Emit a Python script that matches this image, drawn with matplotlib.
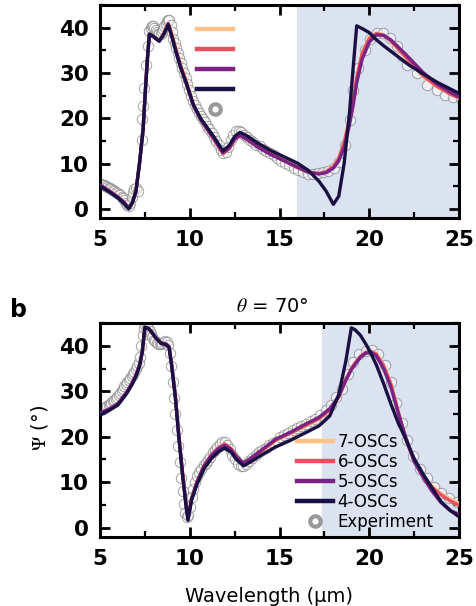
import matplotlib
matplotlib.use("Agg")
import matplotlib.pyplot as plt
from matplotlib.lines import Line2D
from matplotlib.ticker import MultipleLocator

plt.rcParams["font.family"] = ["DejaVu Sans"]
plt.rcParams["mathtext.fontset"] = "stix"

# ---------------- panel a ----------------
wl_a = [5.0, 5.5, 6.0, 6.3, 6.6, 6.8, 7.0, 7.2, 7.4, 7.55,
        7.65, 7.75, 8.0, 8.3, 8.55, 8.8, 9.0, 9.25, 9.5, 9.8,
        10.2, 10.6, 11.0, 11.4, 11.85, 12.2, 12.5, 12.8, 13.2, 13.8,
        14.5, 15.2, 16.0, 16.6, 17.2, 17.6, 18.0, 18.3, 18.6, 18.9,
        19.1, 19.3, 19.6, 20.0, 20.4, 20.8, 21.2, 21.6, 22.2, 23.0,
        23.8, 24.5, 25.0]
osc4_a = [5.0, 3.8, 2.4, 1.3, 0.0, 1.3, 3.8, 10.0, 17.5, 27.5,
          33.5, 38.6, 38.0, 37.0, 38.5, 40.6, 38.0, 34.4, 31.1, 27.8,
          23.0, 20.0, 17.8, 15.6, 12.8, 14.0, 16.0, 16.9, 16.1, 14.5,
          12.9, 11.6, 10.1, 8.5, 6.1, 3.9, 1.0, 2.8, 10.0, 21.3,
          31.0, 40.4, 39.8, 38.9, 37.3, 36.0, 34.8, 33.6, 31.8, 29.8,
          27.9, 26.5, 25.5]
osc5_a = [5.3, 4.0, 2.6, 1.6, 0.2, 1.4, 3.9, 10.0, 17.6, 27.6,
          33.6, 38.5, 37.9, 37.0, 38.6, 40.8, 38.2, 34.6, 31.2, 27.8,
          22.9, 19.8, 17.5, 15.2, 12.4, 13.5, 15.4, 16.2, 15.3, 13.6,
          12.0, 10.7, 9.2, 8.1, 7.7, 8.0, 9.0, 10.6, 13.6, 18.6,
          22.8, 27.8, 33.0, 36.8, 38.4, 38.3, 37.3, 35.8, 33.4, 30.1,
          27.5, 25.8, 24.7]
osc6_a = [5.2, 4.0, 2.6, 1.6, 0.3, 1.4, 3.9, 10.1, 17.7, 27.7,
          33.7, 38.5, 37.9, 37.1, 38.7, 40.9, 38.4, 34.8, 31.4, 28.0,
          23.0, 19.8, 17.4, 15.0, 12.2, 13.3, 15.3, 16.2, 15.4, 13.8,
          12.2, 10.8, 9.1, 8.1, 7.8, 8.2, 9.3, 11.1, 14.6, 19.6,
          23.8, 28.9, 34.2, 37.6, 38.7, 38.3, 37.1, 35.4, 32.8, 29.4,
          27.0, 25.4, 24.5]
osc7_a = [5.2, 4.0, 2.6, 1.6, 0.3, 1.4, 3.9, 10.1, 17.7, 27.7,
          33.7, 38.5, 37.9, 37.1, 38.8, 41.1, 38.8, 35.3, 31.9, 28.4,
          23.2, 19.9, 17.4, 15.0, 12.2, 13.3, 15.3, 16.2, 15.4, 13.8,
          12.2, 10.8, 9.1, 8.1, 7.8, 8.2, 9.4, 11.3, 14.9, 20.0,
          24.3, 29.3, 34.5, 37.8, 38.8, 38.4, 37.0, 35.2, 32.6, 29.2,
          26.9, 25.3, 24.4]

exp_wl_a = [5.00, 5.08, 5.16, 5.24, 5.32, 5.40, 5.48, 5.56, 5.64, 5.72,
            5.80, 5.88, 5.96, 6.04, 6.12, 6.20, 6.28, 6.36, 6.44, 6.52,
            6.60, 6.68, 6.76, 6.84, 6.92, 7.00, 7.10, 7.32, 7.36, 7.41,
            7.47, 7.56, 7.66, 7.75, 7.82, 7.89, 7.96, 8.03, 8.10, 8.17,
            8.24, 8.31, 8.38, 8.45, 8.52, 8.59, 8.66, 8.73, 8.80, 8.87,
            8.94, 9.01, 9.09, 9.17, 9.25, 9.33, 9.41, 9.50, 9.59, 9.68,
            9.77, 9.87, 9.97, 10.07, 10.17, 10.28, 10.39, 10.50, 10.61, 10.73,
            10.85, 10.97, 11.09, 11.22, 11.35, 11.48, 11.61, 11.74, 11.87, 12.00,
            12.14, 12.28, 12.42, 12.57, 12.72, 12.87, 13.03, 13.19, 13.36, 13.53,
            13.71, 13.89, 14.08, 14.27, 14.47, 14.67, 14.88, 15.10, 15.32, 15.55,
            15.79, 16.04, 16.30, 16.56, 16.84, 17.12, 17.41, 17.71, 18.02, 18.34,
            18.65, 18.93, 19.12, 19.39, 19.77, 20.04, 20.42, 20.79, 21.16, 21.53,
            21.82, 22.09, 22.64, 23.20, 23.76, 24.22, 24.69, 25.10]
exp_psi_a = [5.6, 5.5, 5.3, 5.2, 5.0, 4.9, 4.7, 4.6, 4.4, 4.2,
             4.0, 3.8, 3.6, 3.3, 3.0, 2.7, 2.3, 1.9, 1.4, 0.9,
             0.6, 1.2, 2.6, 3.8, 4.5, 4.6, 4.0, 15.2, 19.9, 22.6,
             26.6, 31.8, 35.9, 39.2, 40.0, 40.4, 40.3, 39.9, 39.5, 39.0,
             38.7, 38.6, 38.7, 39.0, 39.6, 40.3, 40.9, 41.4, 41.7, 41.6,
             40.5, 39.0, 37.6, 36.5, 35.5, 34.5, 33.4, 32.3, 31.1, 30.0,
             28.9, 27.6, 26.3, 25.0, 23.9, 22.9, 22.0, 21.2, 20.5, 19.8,
             19.1, 18.4, 17.6, 16.8, 15.9, 15.0, 14.0, 13.1, 12.4, 12.6,
             13.7, 15.2, 16.4, 17.1, 17.3, 17.0, 16.4, 15.8, 15.2, 14.7,
             14.2, 13.8, 13.3, 12.8, 12.3, 11.8, 11.2, 10.6, 10.1, 9.6,
             9.1, 8.6, 8.1, 7.8, 7.8, 8.0, 8.2, 8.4, 9.0, 10.4,
             14.1, 19.7, 26.3, 31.1, 35.1, 37.5, 38.8, 38.8, 37.7, 35.9,
             33.8, 31.8, 30.0, 27.4, 26.3, 25.2, 24.8, 24.2]

# ---------------- panel b ----------------
wl_b = [5.0, 5.5, 6.0, 6.5, 6.8, 7.0, 7.2, 7.35, 7.5, 7.7,
        7.9, 8.1, 8.4, 8.7, 8.85, 9.0, 9.2, 9.4, 9.6, 9.8,
        9.9, 10.1, 10.4, 10.8, 11.2, 11.6, 11.95, 12.3, 12.6, 13.0,
        13.4, 14.0, 14.8, 15.6, 16.4, 17.2, 17.8, 18.3, 18.7, 19.0,
        19.2, 19.5, 19.8, 20.1, 20.4, 20.8, 21.2, 21.6, 22.0, 22.5,
        23.0, 23.5, 24.0, 24.5, 25.0]
osc4_b = [24.8, 25.8, 27.0, 29.6, 31.6, 33.3, 35.5, 38.5, 44.2, 43.9,
          43.0, 41.8, 40.6, 40.2, 39.6, 35.3, 28.5, 19.5, 11.5, 4.5,
          1.6, 6.0, 9.5, 13.0, 15.2, 16.7, 17.5, 16.6, 15.0, 13.6,
          14.5, 16.0, 17.8, 19.2, 20.8, 22.4, 24.6, 29.3, 36.8, 44.0,
          43.6, 42.4, 40.5, 38.3, 35.8, 31.7, 27.3, 23.2, 19.8, 15.2,
          11.8, 8.7, 5.7, 3.8, 2.4]
osc5_b = [25.2, 26.1, 27.3, 29.9, 31.9, 33.6, 35.8, 38.7, 44.0, 43.8,
          42.9, 41.8, 40.7, 40.4, 39.8, 35.6, 28.8, 19.8, 11.8, 4.8,
          1.8, 6.3, 10.0, 13.6, 15.9, 17.4, 18.1, 17.2, 15.6, 14.2,
          15.3, 17.1, 19.5, 21.0, 22.7, 24.3, 26.2, 28.9, 32.5, 34.8,
          35.9, 37.5, 38.4, 38.6, 37.8, 35.0, 31.0, 25.5, 20.3, 14.6,
          11.1, 8.0, 5.5, 3.8, 2.9]
osc6_b = [25.1, 26.1, 27.3, 29.9, 31.9, 33.6, 35.8, 38.7, 44.0, 43.8,
          42.9, 41.8, 40.7, 40.4, 39.8, 35.7, 28.9, 19.9, 11.9, 4.9,
          2.0, 6.4, 10.1, 13.7, 16.0, 17.6, 18.4, 17.4, 15.7, 14.2,
          15.2, 16.9, 19.3, 20.8, 22.4, 24.0, 25.9, 28.8, 32.6, 35.0,
          36.2, 37.7, 38.6, 38.8, 38.2, 35.6, 31.6, 25.6, 19.8, 14.6,
          11.3, 8.9, 7.2, 5.9, 4.9]
osc7_b = [25.1, 26.1, 27.3, 29.9, 31.9, 33.6, 35.8, 38.7, 44.0, 43.8,
          42.9, 41.8, 40.7, 40.4, 39.8, 35.8, 29.0, 20.0, 12.0, 5.0,
          2.1, 6.4, 10.1, 13.7, 16.0, 17.6, 18.4, 17.4, 15.7, 14.2,
          15.1, 16.8, 19.2, 20.7, 22.3, 23.9, 25.8, 28.7, 32.5, 35.0,
          36.2, 37.6, 38.5, 38.8, 38.3, 35.9, 32.0, 26.0, 20.0, 14.8,
          11.5, 9.1, 7.5, 6.3, 5.4]

exp_wl_b = [5.00, 5.08, 5.16, 5.24, 5.32, 5.40, 5.48, 5.56, 5.64, 5.72,
            5.80, 5.88, 5.96, 6.04, 6.12, 6.20, 6.28, 6.36, 6.44, 6.52,
            6.60, 6.68, 6.76, 6.84, 6.92, 7.00, 7.08, 7.16, 7.24, 7.31,
            7.38, 7.45, 7.52, 7.60, 7.68, 7.76, 7.84, 7.92, 8.00, 8.08,
            8.16, 8.24, 8.32, 8.40, 8.48, 8.56, 8.64, 8.72, 8.80, 8.88,
            8.96, 9.04, 9.12, 9.20, 9.28, 9.36, 9.44, 9.52, 9.60, 9.68,
            9.76, 9.84, 9.92, 10.00, 10.10, 10.20, 10.31, 10.42, 10.53, 10.65,
            10.77, 10.89, 11.01, 11.14, 11.27, 11.40, 11.53, 11.66, 11.80, 11.94,
            12.08, 12.22, 12.37, 12.52, 12.67, 12.83, 12.99, 13.15, 13.32, 13.49,
            13.67, 13.85, 14.04, 14.23, 14.43, 14.63, 14.84, 15.05, 15.27, 15.50,
            15.73, 15.97, 16.22, 16.47, 16.73, 17.00, 17.28, 17.57, 17.87, 18.17,
            18.48, 18.79, 19.10, 19.45, 19.80, 20.15, 20.50, 20.85, 21.20, 21.50,
            21.80, 22.10, 22.45, 22.83, 23.20, 23.60, 24.00, 24.45, 24.90]
exp_psi_b = [26.0, 26.1, 26.2, 26.4, 26.6, 26.8, 27.0, 27.2, 27.5, 27.8,
             28.1, 28.4, 28.8, 29.2, 29.6, 30.1, 30.6, 31.1, 31.6, 32.1,
             32.6, 33.0, 33.4, 33.8, 34.3, 34.9, 35.5, 36.2, 37.5, 40.0,
             42.5, 44.0, 44.6, 44.5, 44.0, 43.3, 42.6, 41.9, 41.4, 41.0,
             40.7, 40.5, 40.4, 40.5, 40.7, 40.9, 41.0, 40.9, 40.2, 38.5,
             35.5, 32.0, 28.5, 25.0, 21.5, 18.0, 14.5, 11.0, 8.0, 5.3,
             3.3, 2.3, 2.8, 4.5, 6.8, 8.6, 10.0, 11.3, 12.3, 13.0,
             13.7, 14.3, 14.9, 15.5, 16.6, 17.2, 17.8, 18.4, 18.8, 18.9,
             18.3, 17.3, 16.1, 15.0, 14.1, 13.6, 13.5, 13.9, 14.6, 15.3,
             16.0, 16.6, 17.1, 17.6, 18.1, 18.6, 19.1, 19.9, 20.4, 20.9,
             21.4, 21.9, 22.4, 22.9, 23.4, 24.0, 24.8, 25.8, 27.0, 28.8,
             30.6, 33.8, 36.5, 38.2, 39.0, 39.2, 38.3, 35.8, 32.0, 27.5,
             23.0, 19.3, 15.8, 13.0, 10.9, 9.0, 7.6, 6.5, 5.6]

labels = ["7-OSCs", "6-OSCs", "5-OSCs", "4-OSCs", "Experiment"]
colors = ["#fec287", "#e8505f", "#7b2382", "#1b1044"]
exp_color = "#999999"
shade_color = "#dbe3f1"
shade_a = (16.0, 25.0)
shade_b = (17.35, 25.0)

fig = plt.figure(figsize=(4.76, 6.06), dpi=100)
ax_a = fig.add_axes([0.2101, 0.6403, 0.7542, 0.3515])
ax_b = fig.add_axes([0.2101, 0.1144, 0.7542, 0.3521])


def draw_panel(ax, wl, models, exp_wl, exp_psi, shade):
    ax.axvspan(shade[0], shade[1], color=shade_color, lw=0, zorder=0)
    ax.plot(exp_wl, exp_psi, ls="none", marker="o", ms=7.5,
            mfc=(1, 1, 1, 0.45), mec=(0.55, 0.55, 0.55, 0.8), mew=0.7,
            zorder=2)
    for i, (vals, c) in enumerate(zip(models, colors)):
        ax.plot(wl, vals, color=c, lw=2.4, solid_capstyle="round",
                solid_joinstyle="round", zorder=3 + i)
    ax.set_xlim(5, 25)
    ax.set_ylim(-2, 45)
    ax.xaxis.set_major_locator(MultipleLocator(5))
    ax.xaxis.set_minor_locator(MultipleLocator(2.5))
    ax.yaxis.set_major_locator(MultipleLocator(10))
    ax.yaxis.set_minor_locator(MultipleLocator(5))
    ax.tick_params(which="both", direction="in", top=True, right=True)
    ax.tick_params(which="major", length=7, width=2.0, labelsize=15.5)
    ax.tick_params(axis="x", which="major", pad=9)
    ax.tick_params(axis="y", which="major", pad=8)
    ax.tick_params(which="minor", length=4, width=1.6)
    for lab in ax.get_xticklabels() + ax.get_yticklabels():
        lab.set_fontweight("bold")
    for sp in ax.spines.values():
        sp.set_linewidth(2.2)


draw_panel(ax_a, wl_a, [osc7_a, osc6_a, osc5_a, osc4_a],
           exp_wl_a, exp_psi_a, shade_a)
draw_panel(ax_b, wl_b, [osc7_b, osc6_b, osc5_b, osc4_b],
           exp_wl_b, exp_psi_b, shade_b)

handles = [Line2D([], [], color=c, lw=3.2) for c in colors]
handles.append(Line2D([], [], ls="none", marker="o", ms=7.5, mfc="none",
                      mec=exp_color, mew=3.0))

leg_kw = dict(loc="upper left", frameon=False, fontsize=12,
              handlelength=2.15, handletextpad=0.3, labelspacing=0.12,
              borderpad=0, borderaxespad=0)
ax_a.legend(handles, [" "] * 5, bbox_to_anchor=(0.27, 0.925), **leg_kw)
ax_b.legend(handles, labels, bbox_to_anchor=(0.548, 0.485), **leg_kw)

ax_b.set_xlabel("Wavelength (μm)", fontsize=14, va="top")
ax_b.xaxis.set_label_coords(0.471, -0.235)
ax_b.set_ylabel(r"$\Psi$ (°)", fontsize=14)
ax_b.yaxis.set_label_coords(-0.139, 0.51)
ax_b.set_title(r"$\theta$ = 70°", fontsize=14, pad=8, x=0.48)
fig.text(0.021, 0.477, "b", fontsize=17, fontweight="bold", va="baseline")

fig.savefig("out.png", dpi=100)
